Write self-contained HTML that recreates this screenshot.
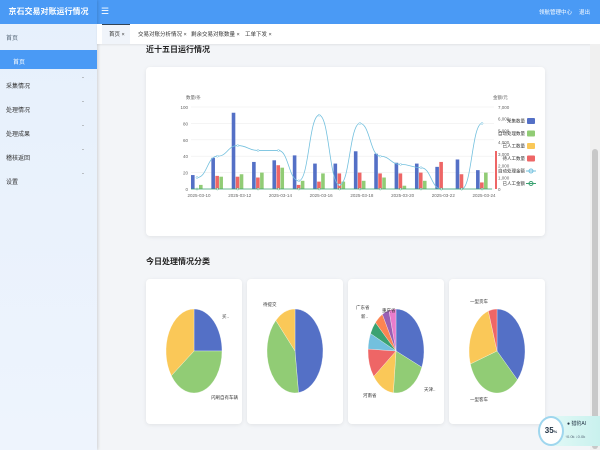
<!DOCTYPE html><html><head><meta charset="utf-8"><style>
*{margin:0;padding:0;box-sizing:border-box}
body{width:600px;height:450px;overflow:hidden;background:#f3f5f8;font-family:"Liberation Sans","Noto Sans CJK SC",sans-serif;position:relative}
.hd{position:absolute;left:0;top:0;width:600px;height:24px;background:#4a9af5}
.side{position:absolute;left:0;top:0;width:97px;height:450px;background:linear-gradient(180deg,#e6f0fc,#eef4fd);box-shadow:1px 0 3px rgba(0,0,0,.15)}
.logo{height:24px;background:#4a9af5;color:#fff;font-size:8px;font-weight:bold;line-height:24px;text-align:center;white-space:nowrap;overflow:hidden}
.s{position:absolute;left:6px;font-size:6px;color:#333}
.ar{position:absolute;left:82px;font-size:6px;color:#888}
.tabs{position:absolute;left:97px;top:24px;width:503px;height:20px;background:#fff;box-shadow:0 1px 2px rgba(0,0,0,.08)}
.t{position:absolute;top:6px;font-size:5.5px;color:#333}
.card{position:absolute;background:#fff;border-radius:4px;box-shadow:0 1px 4px rgba(0,0,0,.08)}
.h{position:absolute;font-size:8px;font-weight:bold;color:#222}
</style></head><body>
<div class="hd"><span style="position:absolute;left:101px;top:6px;color:#fff;font-size:9px">☰</span><span style="position:absolute;left:539px;top:8px;color:#fff;font-size:5.5px">领航管理中心</span><span style="position:absolute;left:579px;top:8px;color:#fff;font-size:5.5px">退出</span></div>
<div class="side"><div class="logo">京石交易对账运行情况</div>
<div class="s" style="top:33px;color:#567">首页</div>
<div style="position:absolute;left:0;top:50px;width:97px;height:19px;background:#4a9af5"></div>
<div class="s" style="top:57px;left:13px;color:#fff">首页</div>
<div class="s" style="top:81px">采集情况</div><div class="ar" style="top:78px">ˇ</div>
<div class="s" style="top:105px">处理情况</div><div class="ar" style="top:102px">ˇ</div>
<div class="s" style="top:129px">处理成果</div><div class="ar" style="top:126px">ˇ</div>
<div class="s" style="top:153px">稽核返回</div><div class="ar" style="top:150px">ˇ</div>
<div class="s" style="top:177px">设置</div><div class="ar" style="top:174px">ˇ</div>
</div>
<div class="tabs"><div style="position:absolute;left:5px;top:0;width:28px;height:20px;background:#f0f4fa;border-top:1px solid #345"></div>
<span class="t" style="left:12px">首页 ×</span><span class="t" style="left:41px">交易对账分析情况 ×</span><span class="t" style="left:94px">剩余交易对账数量 ×</span><span class="t" style="left:148px">工单下发 ×</span></div>
<div style="position:absolute;left:590px;top:44px;width:10px;height:406px;background:#f0f0f0"><div style="position:absolute;left:2px;top:105px;width:6px;height:300px;background:#c8c8c8;border-radius:3px"></div></div>
<div class="h" style="left:146px;top:44px">近十五日运行情况</div>
<div class="card" style="left:146px;top:67px;width:399px;height:169px"></div>
<div class="h" style="left:146px;top:256px">今日处理情况分类</div>
<div class="card" style="left:146px;top:279px;width:96px;height:145px"></div>
<div class="card" style="left:247px;top:279px;width:96px;height:145px"></div>
<div class="card" style="left:348px;top:279px;width:96px;height:145px"></div>
<div class="card" style="left:449px;top:279px;width:96px;height:145px"></div>
<svg id="sv" width="600" height="450" style="position:absolute;left:0;top:0" font-family="Liberation Sans,Noto Sans CJK SC,sans-serif"></svg>
<div style="position:absolute;left:538px;top:416px;width:62px;height:30px;border-radius:15px 0 0 15px;background:linear-gradient(90deg,#e8fbf8,#c9f1ee)"></div>
<div style="position:absolute;left:538px;top:416px;width:26px;height:30px;border-radius:50%;border:2px solid #9fd6ee;background:#fff;font-size:8px;font-weight:bold;line-height:26px;text-align:center;color:#234">35<span style="font-size:4px">%</span></div>
<div style="position:absolute;left:567px;top:420px;font-size:5px;color:#234">● 猎豹AI</div>
<div style="position:absolute;left:565px;top:434px;font-size:4px;color:#567">↑0.0k ↓0.0k</div>
<script>
var s='',Y=v=>189-v*0.82;
for(var i=0;i<=5;i++){var y=Y(i*20);s+=`<line x1="191" x2="494" y1="${y}" y2="${y}" stroke="#eee" stroke-width=".6"/><text x="188" y="${y+2}" font-size="4.5" fill="#666" text-anchor="end">${i*20}</text>`;}
for(i=0;i<=7;i++){s+=`<text x="498" y="${189-i*82/7+2}" font-size="4.5" fill="#666">${(i*1000).toLocaleString('en')}</text>`;}
s+=`<text x="186" y="99" font-size="4.5" fill="#666">数量/条</text><text x="493" y="99" font-size="4.5" fill="#666">金额/元</text>`;
var B=[17,38,93,33,35,41,31,31,46,43,32,31,27,36,23],R=[0,16,15,14,29,5,9,19,20,19,19,20,33,18,8],G=[5,15,18,20,26,10,19,9,10,14,4,10,0,0,20],L=[14,40,53,47,47,10,90,5,80,40,30,26,0,0,80];
var pts=[];
for(i=0;i<15;i++){var c=197+20.36*i;
s+=`<rect x="${c-6}" y="${Y(B[i])}" width="3.6" height="${B[i]*.82}" fill="#5470c6"/><rect x="${c-2}" y="${Y(R[i])}" width="3.6" height="${R[i]*.82}" fill="#ee6666"/><rect x="${c+2}" y="${Y(G[i])}" width="3.6" height="${G[i]*.82}" fill="#91cc75"/>`;
pts.push([c,Y(L[i])]);
if(i%2==0)s+=`<text x="${c+2}" y="197" font-size="4.5" fill="#666" text-anchor="middle">2025-03-${10+i}</text>`;}
var d='M'+pts[0];for(i=1;i<15;i++){var p=pts[i-1],q=pts[i],m=(p[0]+q[0])/2;d+=` C${m},${p[1]} ${m},${q[1]} ${q[0]},${q[1]}`;}
s+=`<path d="${d}" fill="none" stroke="#73c0de" stroke-width=".8"/><line x1="191" x2="492" y1="189" y2="189" stroke="#3ba272" stroke-width=".8"/>`;
pts.forEach(p=>{s+=`<circle cx="${p[0]}" cy="${p[1]}" r="1" fill="#fff" stroke="#73c0de" stroke-width=".5"/><circle cx="${p[0]}" cy="189" r="1" fill="#fff" stroke="#3ba272" stroke-width=".5"/>`});
s+=`<rect x="495" y="151" width="2" height="38" fill="#ee6666"/>`;
var lg=[['#5470c6','采集数量'],['#91cc75','自动处理数量'],['#fac858','已人工数量'],['#ee6666','待人工数量'],['#73c0de','自动处理金额'],['#3ba272','已人工金额']];
lg.forEach((l,k)=>{var y=118+k*12.5;s+=k<4?`<rect x="527" y="${y}" width="8" height="6" rx="1" fill="${l[0]}"/>`:`<circle cx="531" cy="${y+3}" r="2" fill="none" stroke="${l[0]}"/><line x1="526" x2="536" y1="${y+3}" y2="${y+3}" stroke="${l[0]}"/>`;s+=`<text x="525" y="${y+4.5}" font-size="4.5" fill="#333" text-anchor="end">${l[1]}</text>`});
function pie(cx,cy,vals,cols){var t=vals.reduce((a,b)=>a+b),a=-Math.PI/2;vals.forEach((v,k)=>{var b=a+v/t*2*Math.PI,x1=cx+28*Math.cos(a),y1=cy+42*Math.sin(a),x2=cx+28*Math.cos(b),y2=cy+42*Math.sin(b);s+=`<path d="M${cx},${cy}L${x1},${y1}A28,42 0 ${b-a>Math.PI?1:0} 1 ${x2},${y2}Z" fill="${cols[k]}" stroke="#fff" stroke-width=".3"/>`;a=b;});}
var C=['#5470c6','#91cc75','#fac858','#ee6666','#73c0de','#3ba272','#fc8452','#9a60b4','#ea7ccc'];
pie(194,351,[25,40,35],C);pie(295,351,[48,40,12],C);pie(396,351,[31,20,13,11,6,5,5,4,4],C);pie(497,351,[37,33,25,5],[C[0],C[1],C[2],C[3]]);
s+=`<text x="222" y="318" font-size="4.5" fill="#333">买..</text><text x="211" y="399" font-size="4.5" fill="#333">闪刷自有车辆</text><text x="263" y="306" font-size="4.5" fill="#333">待提交</text><text x="382" y="312" font-size="4.5" fill="#333">重庆省</text><text x="356" y="309" font-size="4.5" fill="#333">广东省</text><text x="361" y="318" font-size="4.5" fill="#333">新..</text><text x="363" y="397" font-size="4.5" fill="#333">河南省</text><text x="424" y="391" font-size="4.5" fill="#333">天津..</text><text x="470" y="303" font-size="4.5" fill="#333">一型货车</text><text x="470" y="401" font-size="4.5" fill="#333">一型客车</text>`;
document.getElementById('sv').innerHTML=s;
</script>
</body></html>
